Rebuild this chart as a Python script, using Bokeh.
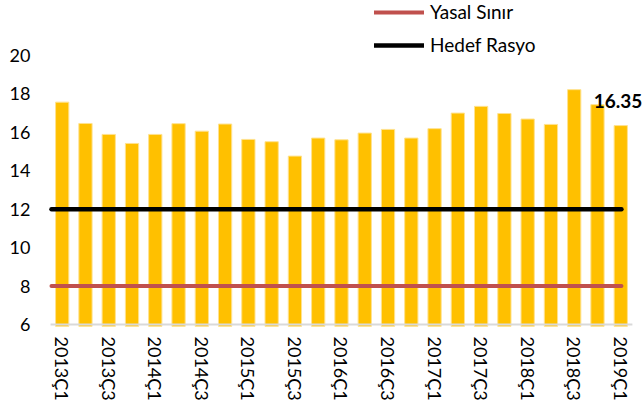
from bokeh.plotting import figure
from bokeh.models import Range1d, FixedTicker, Legend, LegendItem, ColumnDataSource
from bokeh.core.properties import value
from bokeh.embed import file_html
from bokeh.resources import INLINE

quarters = ["2013Ç1", "2013Ç2", "2013Ç3", "2013Ç4",
            "2014Ç1", "2014Ç2", "2014Ç3", "2014Ç4",
            "2015Ç1", "2015Ç2", "2015Ç3", "2015Ç4",
            "2016Ç1", "2016Ç2", "2016Ç3", "2016Ç4",
            "2017Ç1", "2017Ç2", "2017Ç3", "2017Ç4",
            "2018Ç1", "2018Ç2", "2018Ç3", "2018Ç4",
            "2019Ç1"]
ratios = [17.57, 16.46, 15.89, 15.42, 15.89, 16.45, 16.06, 16.43,
          15.63, 15.51, 14.76, 15.70, 15.61, 15.96, 16.15, 15.70,
          16.19, 17.00, 17.35, 16.98, 16.69, 16.41, 18.22, 17.44,
          16.35]
yasal_sinir = 8
hedef_rasyo = 12
y_ticks = [6, 8, 10, 12, 14, 16, 18, 20]
last_label = "16.35"

FONT = "Lato"
n = len(quarters)
xs = list(range(n))

p = figure(width=644, height=412, output_backend="svg", toolbar_location=None,
           x_range=Range1d(-0.76, 25.02), y_range=Range1d(5.84, 22.86),
           min_border_left=44, min_border_right=0, min_border_top=0,
           min_border_bottom=85)
p.outline_line_color = None
p.xgrid.visible = False
p.ygrid.visible = False

src = ColumnDataSource(dict(x=xs, top=ratios, q=quarters))
p.vbar(x="x", top="top", bottom=5.9, width=0.57, source=src,
       fill_color="#FFC000", line_color="#FFE28F", line_width=1)

# baseline
p.segment(x0=[-0.5], x1=[n - 0.5], y0=[y_ticks[0]], y1=[y_ticks[0]],
          line_color="#D9D9D9", line_width=2)

r_yasal = p.line(x=[-0.46, n - 0.97], y=[yasal_sinir, yasal_sinir],
                 line_color="#C0504D", line_width=4, line_cap="round")
r_hedef = p.line(x=[-0.46, n - 0.97], y=[hedef_rasyo, hedef_rasyo],
                 line_color="#000000", line_width=4.5, line_cap="round")

p.text(x=[xs[-1]], y=[ratios[-1]], text=[last_label], x_offset=-27, y_offset=-25,
       text_font=value(FONT), text_font_style="bold", text_font_size="19px",
       text_align="left", text_baseline="middle", text_color="#000000")

legend = Legend(items=[LegendItem(label="Yasal Sınır", renderers=[r_yasal]),
                       LegendItem(label="Hedef Rasyo", renderers=[r_hedef])],
                location=(330, 271), orientation="vertical",
                glyph_width=50, glyph_height=22, label_height=22, spacing=10,
                padding=0, margin=0, label_standoff=6,
                label_text_font=FONT, label_text_font_size="19px",
                label_text_color="#000000",
                border_line_color=None, background_fill_alpha=0)
p.add_layout(legend, "center")

ya = p.yaxis[0]
ya.ticker = FixedTicker(ticks=y_ticks)
ya.axis_line_color = None
ya.major_tick_line_color = None
ya.minor_tick_line_color = None
ya.major_tick_out = 0
ya.major_label_standoff = 14
ya.major_label_text_font = FONT
ya.major_label_text_font_size = "18px"
ya.major_label_text_color = "#000000"

xa = p.xaxis[0]
xa.ticker = FixedTicker(ticks=xs[::2])
xa.major_label_overrides = {i: quarters[i] for i in xs[::2]}
xa.major_label_orientation = "vertical"
xa.axis_line_color = None
xa.major_tick_line_color = None
xa.minor_tick_line_color = None
xa.major_tick_out = 0
xa.major_label_standoff = 9
xa.major_label_text_font = FONT
xa.major_label_text_font_size = "18px"
xa.major_label_text_color = "#000000"

open("out.html", "w").write(file_html(p, INLINE))
